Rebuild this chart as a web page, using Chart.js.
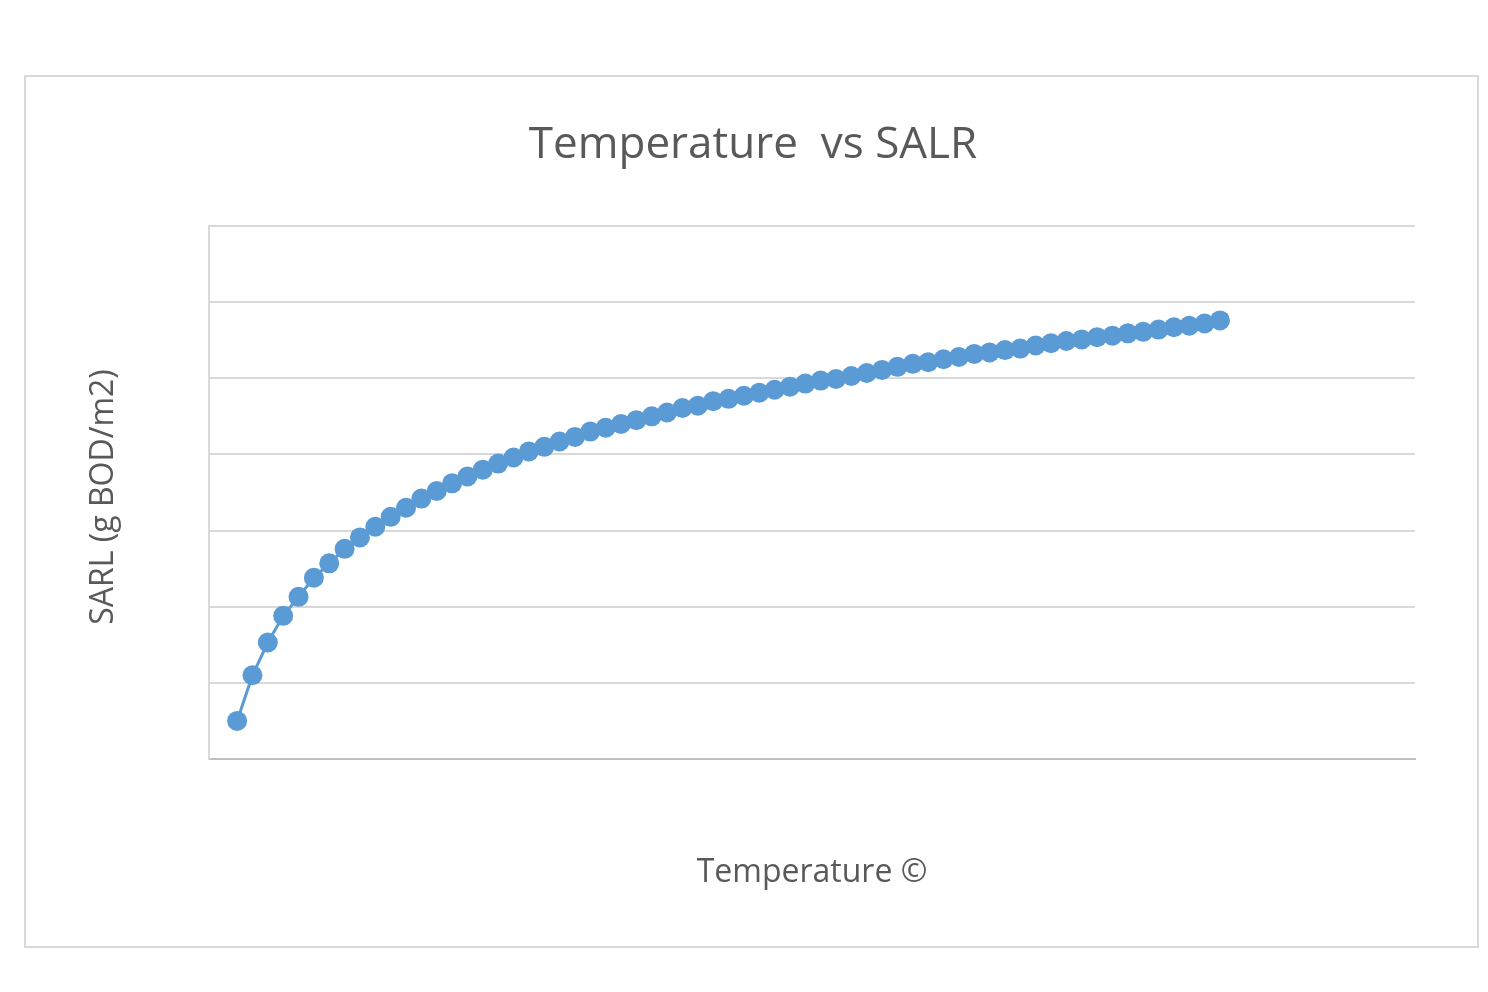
<!DOCTYPE html>
<html>
<head>
<meta charset="utf-8">
<script src="https://cdn.jsdelivr.net/npm/chart.js@4"></script>
<style>
  body { margin: 0; background: #fff; }
  #box { position: absolute; left: 24px; top: 75px; width: 1451px; height: 869px; border: 2px solid #d9d9d9; background: #fff; }
</style>
</head>
<body>
<div id="box"><canvas id="c" width="1451" height="869"></canvas></div>
<script>
// ------- Data -------
const temperature = [];
for (let i = 1; i <= 65; i++) temperature.push(i); // category positions 1..65
const salr = [
  0.50, 1.10, 1.53, 1.88, 2.13, 2.38, 2.57, 2.76, 2.91, 3.05,
  3.18, 3.30, 3.42, 3.52, 3.62, 3.71, 3.80, 3.88, 3.96, 4.04,
  4.10, 4.17, 4.23, 4.30, 4.35, 4.40, 4.45, 4.50, 4.55, 4.61,
  4.64, 4.70, 4.73, 4.77, 4.81, 4.85, 4.89, 4.93, 4.97, 4.99,
  5.03, 5.07, 5.11, 5.15, 5.19, 5.21, 5.25, 5.28, 5.32, 5.34,
  5.37, 5.39, 5.43, 5.46, 5.49, 5.51, 5.54, 5.56, 5.59, 5.61,
  5.64, 5.67, 5.69, 5.72, 5.76
];
const titleText = 'Temperature  vs SALR';
const xTitle = 'Temperature ©';
const yTitle = 'SARL (g BOD/m2)';

const font = '"Open Sans", "Liberation Sans", sans-serif';

const textPlugin = {
  id: 'texts',
  afterDraw(chart) {
    const ctx = chart.ctx;
    const a = chart.chartArea;
    ctx.save();
    ctx.fillStyle = '#595959';
    ctx.textAlign = 'center';
    ctx.textBaseline = 'middle';
    ctx.font = '44px ' + font;
    ctx.fillText(titleText, 727, 68);
    ctx.font = '32px ' + font;
    ctx.fillText(xTitle, 786, 796);
    ctx.translate(78, 420);
    ctx.rotate(-Math.PI / 2);
    ctx.fillText(yTitle, 0, 0);
    ctx.restore();
  }
};

new Chart(document.getElementById('c').getContext('2d'), {
  type: 'line',
  data: {
    datasets: [{
      data: temperature.map((t, i) => ({ x: t, y: salr[i] })),
      borderColor: '#5b9bd5',
      backgroundColor: '#5b9bd5',
      borderWidth: 3,
      pointRadius: 10,
      pointBorderWidth: 0,
      tension: 0
    }]
  },
  options: {
    responsive: false,
    animation: false,
    layout: { padding: { left: 183, top: 149, right: 62, bottom: 179 } },
    plugins: { legend: { display: false }, tooltip: { enabled: false } },
    scales: {
      x: {
        type: 'linear', min: -0.83, max: 77.7,
        ticks: { display: false },
        grid: { display: false },
        border: { display: true, color: '#bfbfbf', width: 2 }
      },
      y: {
        min: 0, max: 7,
        ticks: { display: false, stepSize: 1 },
        grid: { color: '#d9d9d9', lineWidth: 2, drawTicks: false },
        border: { display: true, color: '#d9d9d9', width: 2 }
      }
    }
  },
  plugins: [textPlugin]
});
</script>
</body>
</html>
